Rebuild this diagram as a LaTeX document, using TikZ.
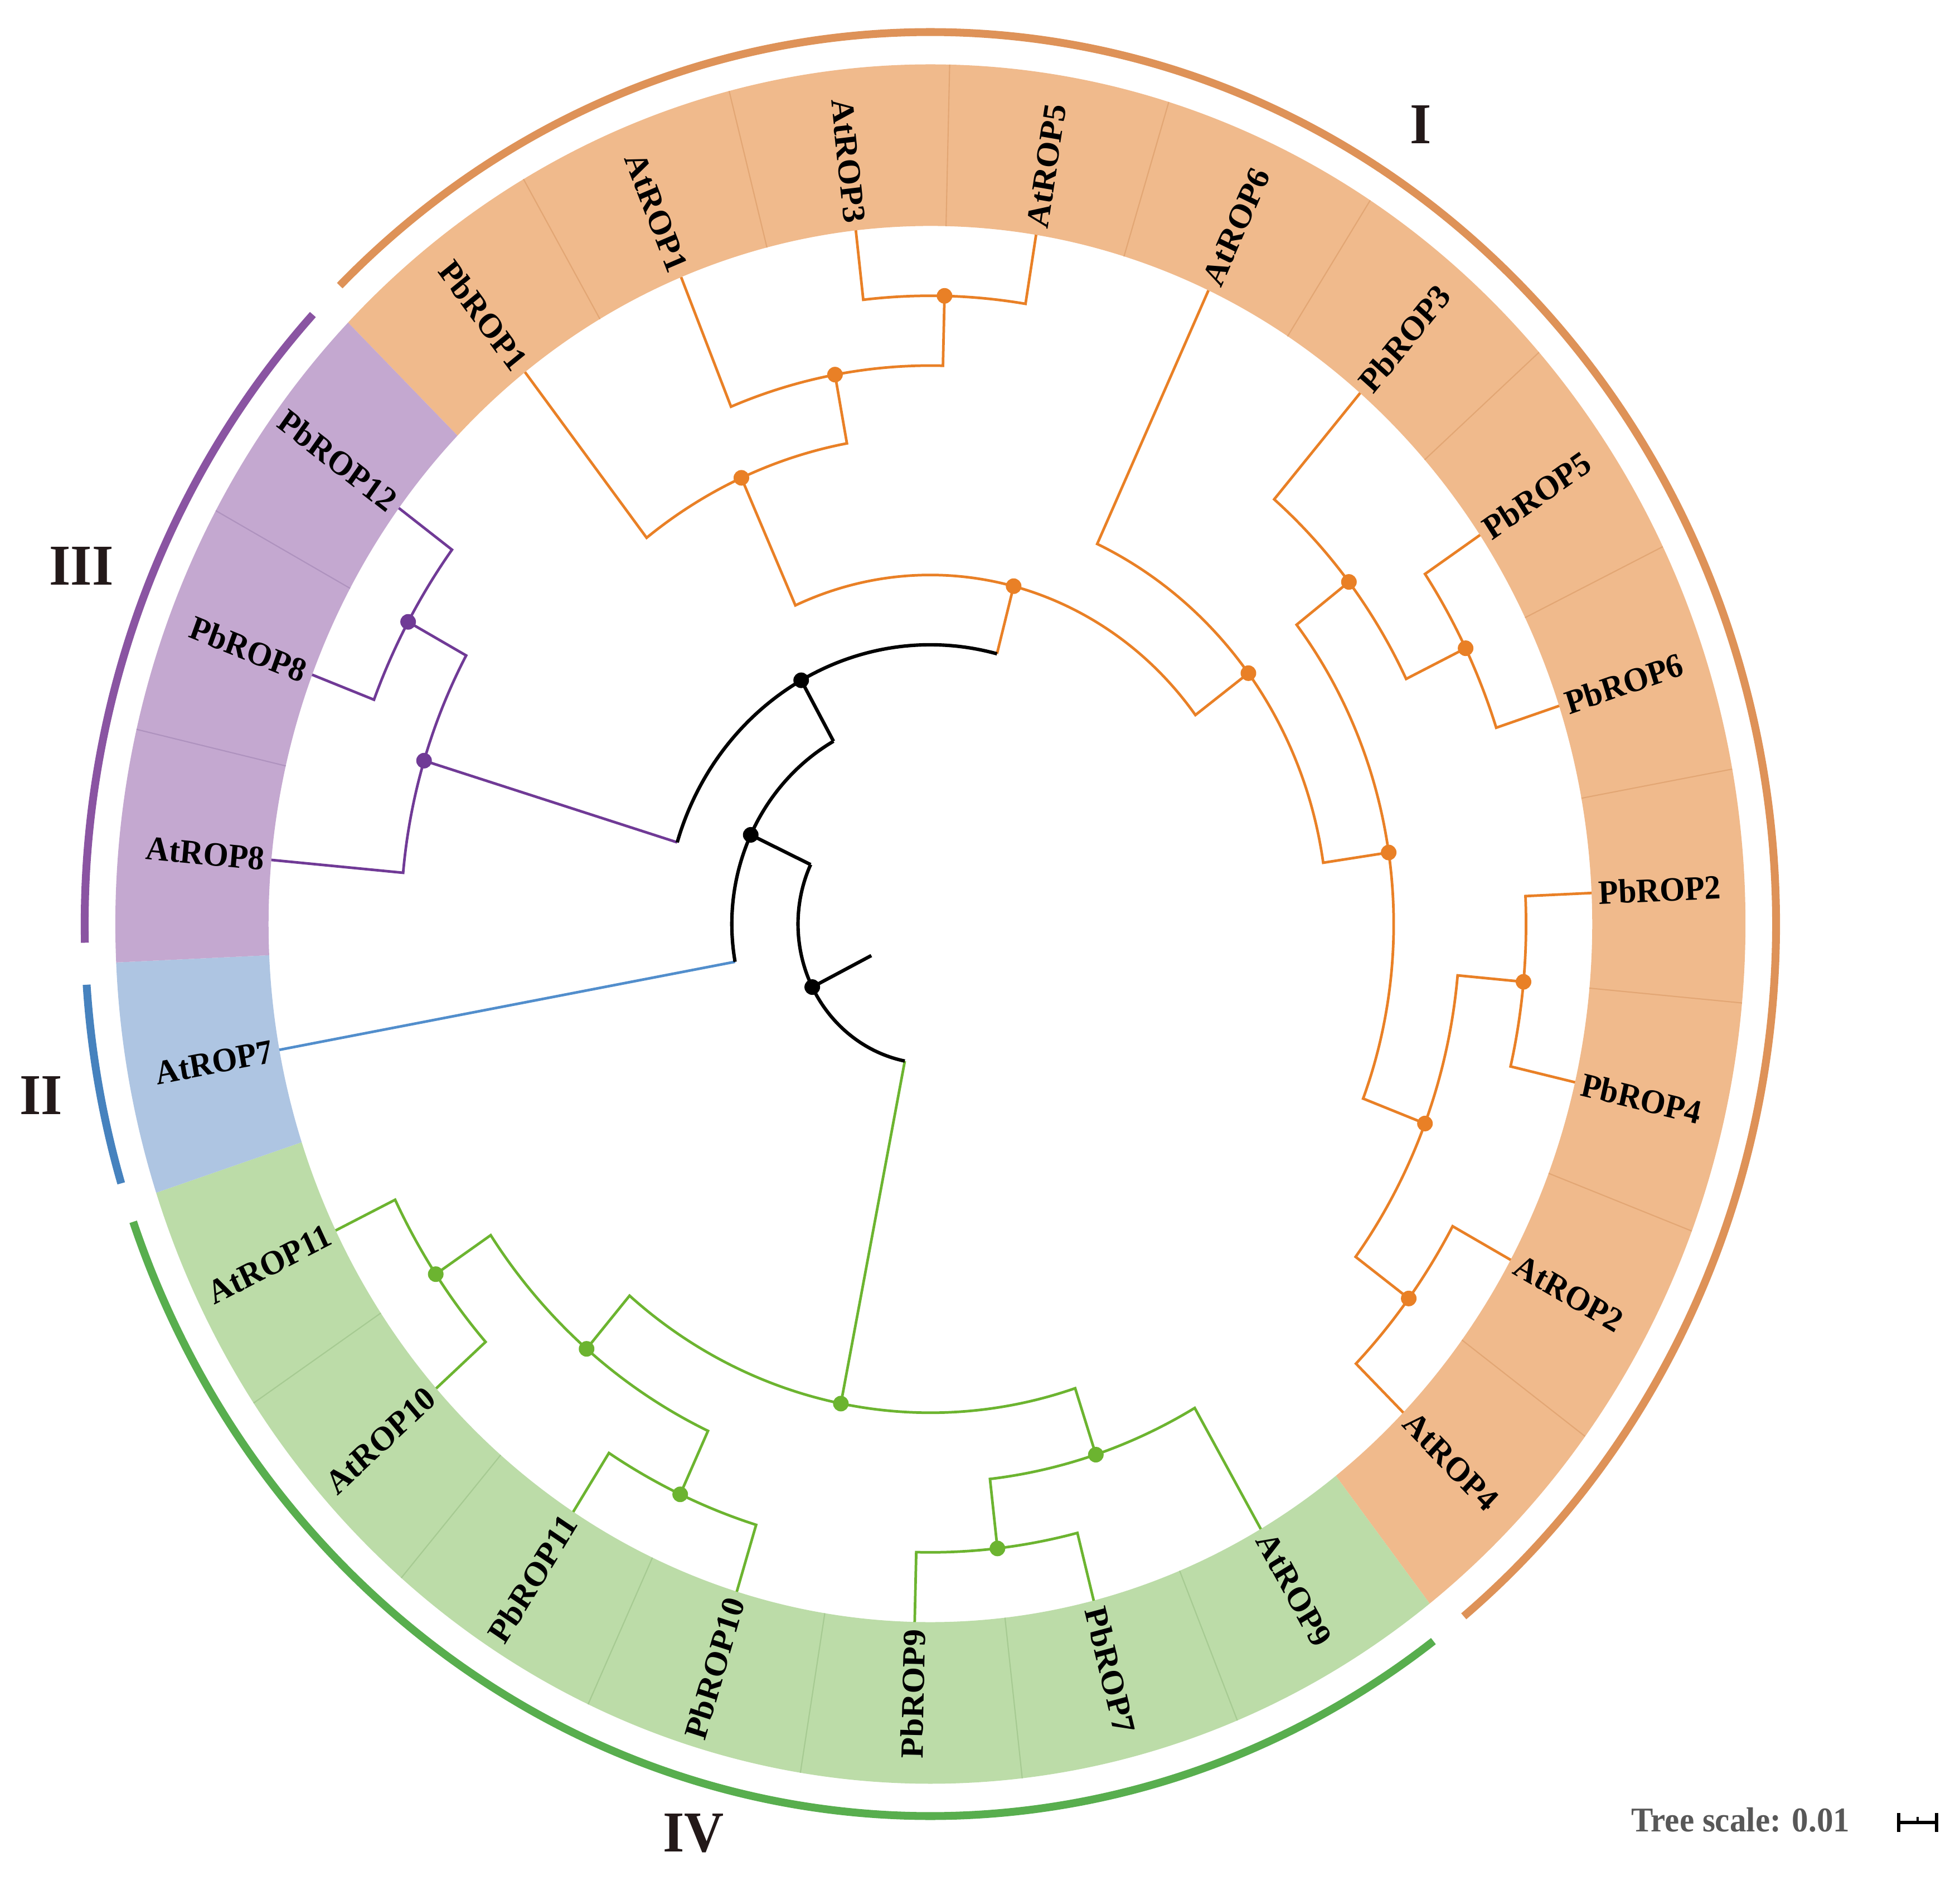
\documentclass[tikz,border=0pt]{standalone}
\usepackage{fontspec}
\setmainfont{Liberation Serif}
\definecolor{orFill}{RGB}{240,186,140}
\definecolor{orSep}{RGB}{226,166,116}
\definecolor{orLine}{RGB}{233,128,38}
\definecolor{orArc}{RGB}{222,146,88}
\definecolor{puFill}{RGB}{196,168,208}
\definecolor{puSep}{RGB}{174,146,190}
\definecolor{puLine}{RGB}{112,58,150}
\definecolor{puArc}{RGB}{138,84,162}
\definecolor{blFill}{RGB}{174,197,226}
\definecolor{blLine}{RGB}{82,142,204}
\definecolor{blArc}{RGB}{70,130,190}
\definecolor{grFill}{RGB}{188,220,168}
\definecolor{grSep}{RGB}{166,202,146}
\definecolor{grLine}{RGB}{108,180,48}
\definecolor{grArc}{RGB}{88,174,78}
\definecolor{romanc}{RGB}{35,25,25}
\definecolor{scalec}{RGB}{88,88,88}
\tikzset{
  br/.style={line width=1.35pt, line join=miter},
  blackbr/.style={line width=1.75pt, black, line join=miter},
  nodedot/.style={circle, fill=#1, inner sep=0pt, minimum size=0.28cm},
  leaftext/.style={font=\bfseries\fontsize{16.5}{18}\selectfont, inner sep=0pt, text=black, transform shape},
  roman/.style={font=\bfseries\fontsize{28}{30}\selectfont, text=romanc, inner sep=0pt},
  scaletext/.style={font=\bfseries\fontsize{16.8}{19}\selectfont, text=scalec, inner sep=0pt},
  cladearc/.style={line width=4pt, line cap=butt}
}
% branch: colour/style, parent radius, child1, angle1, child2, angle2
\newcommand\branch[6]{\draw[#1] (#3) -- (#4:#2) arc[start angle=#4, end angle=#6, radius=#2] -- (#5);}
\newcommand\leaflabel[2]{%
  \pgfmathsetmacro\lcos{cos(#2)}%
  \ifdim\lcos pt<0pt
    \pgfmathsetmacro\lrot{#2+180}%
    \node[leaftext, anchor=east, rotate=\lrot] (l#1) at (#2:1200) {#1};
  \else
    \node[leaftext, anchor=west, rotate=#2] (l#1) at (#2:1200) {#1};
  \fi}
\newcommand\tallbox[1]{\scalebox{1}[1.055]{#1}}
\begin{document}
\begin{tikzpicture}
\useasboundingbox (-16.69,-17.17) rectangle (18.47,16.58);
\begin{scope}[x=0.01cm, y=0.01cm, yscale=1.055]
% ---------- coloured band ----------
\fill[orFill] (135.6:1188) arc[start angle=135.6, end angle=-52.224, radius=1188]
  -- (-52.224:1463) arc[start angle=-52.224, end angle=135.6, radius=1463] -- cycle;
\fill[grFill] (-52.224:1188) arc[start angle=-52.224, end angle=-161.788, radius=1188]
  -- (-161.788:1463) arc[start angle=-161.788, end angle=-52.224, radius=1463] -- cycle;
\fill[blFill] (-161.788:1188) arc[start angle=-161.788, end angle=-177.44, radius=1188]
  -- (-177.44:1463) arc[start angle=-177.44, end angle=-161.788, radius=1463] -- cycle;
\fill[puFill] (-177.44:1188) arc[start angle=-177.44, end angle=-224.4, radius=1188]
  -- (-224.4:1463) arc[start angle=-224.4, end angle=-177.44, radius=1463] -- cycle;
\foreach \j in {1,...,11}
  \draw[orSep, line width=0.6pt] ({135.6-15.652*\j}:1188) -- ({135.6-15.652*\j}:1463);
\foreach \j in {13,...,18}
  \draw[grSep, line width=0.6pt] ({135.6-15.652*\j}:1188) -- ({135.6-15.652*\j}:1463);
\foreach \j in {21,22}
  \draw[puSep, line width=0.6pt] ({135.6-15.652*\j}:1188) -- ({135.6-15.652*\j}:1463);
% ---------- clade arcs ----------
\draw[cladearc, orArc] (134.3:1518) arc[start angle=134.3, end angle=-50.9, radius=1518];
\draw[cladearc, puArc] (136.9:1518) arc[start angle=136.9, end angle=181.2, radius=1518];
\draw[cladearc, blArc] (183.9:1518) arc[start angle=183.9, end angle=196.9, radius=1518];
\draw[cladearc, grArc] (199.5:1518) arc[start angle=199.5, end angle=306.5, radius=1518];
% ---------- leaf tips ----------
\foreach \n/\a in {PbROP1/127.77, AtROP1/112.12, AtROP3/96.47, AtROP5/80.81, AtROP6/65.16,
  PbROP3/49.51, PbROP5/33.86, PbROP6/18.21, PbROP2/2.55, PbROP4/-13.10, AtROP2/-28.75,
  AtROP4/-44.40, AtROP9/-60.05, PbROP7/-75.71, PbROP9/-91.36, PbROP10/-107.01,
  PbROP11/-122.66, AtROP10/-138.31, AtROP11/-153.97, AtROP7/190.38, AtROP8/174.73,
  PbROP8/159.08, PbROP12/143.43}
  \coordinate (\n) at (\a:1188);
% ---------- internal nodes ----------
\coordinate (n35)  at (88.64:1069.2);
\coordinate (n135) at (100.38:950.4);
\coordinate (nP1)  at (114.075:831.6);
\coordinate (p56)  at (26.035:1069.2);
\coordinate (p356) at (37.77:950.4);
\coordinate (p24)  at (-5.275:1069.2);
\coordinate (a24)  at (-36.575:1069.2);
\coordinate (d10)  at (-20.925:950.4);
\coordinate (d8)   at (8.42:831.6);
\coordinate (nB)   at (36.79:712.8);
\coordinate (nA)   at (75.43:594);
\coordinate (pu9)  at (151.255:1069.2);
\coordinate (pu8)  at (162.99:950.4);
\coordinate (g6)   at (-83.535:1069.2);
\coordinate (g5)   at (-71.79:950.4);
\coordinate (g3)   at (-146.14:1069.2);
\coordinate (g4)   at (-114.835:1069.2);
\coordinate (g2)   at (-130.49:950.4);
\coordinate (g1)   at (-101.14:831.6);
\coordinate (P)    at (119.21:475.2);
\coordinate (Q)    at (154.795:356.4);
\coordinate (R)    at (206.83:237.6);
\coordinate (root) at (206.83:118.8);
% ---------- branches: clade I ----------
\branch{br, orLine}{1069.2}{AtROP3}{96.47}{AtROP5}{80.81}
\branch{br, orLine}{950.4}{AtROP1}{112.12}{n35}{88.64}
\branch{br, orLine}{831.6}{PbROP1}{127.77}{n135}{100.38}
\branch{br, orLine}{1069.2}{PbROP5}{33.86}{PbROP6}{18.21}
\branch{br, orLine}{950.4}{PbROP3}{49.51}{p56}{26.035}
\branch{br, orLine}{1069.2}{PbROP2}{2.55}{PbROP4}{-13.10}
\branch{br, orLine}{1069.2}{AtROP2}{-28.75}{AtROP4}{-44.40}
\branch{br, orLine}{950.4}{p24}{-5.275}{a24}{-36.575}
\branch{br, orLine}{831.6}{p356}{37.77}{d10}{-20.925}
\branch{br, orLine}{712.8}{AtROP6}{65.16}{d8}{8.42}
\branch{br, orLine}{594}{nP1}{114.075}{nB}{36.79}
% clade III
\branch{br, puLine}{1069.2}{PbROP12}{143.43}{PbROP8}{159.08}
\branch{br, puLine}{950.4}{pu9}{151.255}{AtROP8}{174.73}
% clade IV
\branch{br, grLine}{1069.2}{PbROP9}{-91.36}{PbROP7}{-75.71}
\branch{br, grLine}{950.4}{g6}{-83.535}{AtROP9}{-60.05}
\branch{br, grLine}{1069.2}{AtROP11}{-153.97}{AtROP10}{-138.31}
\branch{br, grLine}{1069.2}{PbROP11}{-122.66}{PbROP10}{-107.01}
\branch{br, grLine}{950.4}{g3}{-146.14}{g4}{-114.835}
\branch{br, grLine}{831.6}{g2}{-130.49}{g5}{-71.79}
% backbone
\draw[br, orLine] (75.43:475.2) -- (nA);
\draw[br, puLine] (162.99:475.2) -- (pu8);
\draw[blackbr] (75.43:475.2) arc[start angle=75.43, end angle=162.99, radius=475.2];
\draw[br, blLine] (190.38:356.4) -- (AtROP7);
\draw[blackbr] (119.21:356.4) -- (P);
\draw[blackbr] (119.21:356.4) arc[start angle=119.21, end angle=190.38, radius=356.4];
\draw[br, grLine] (258.86:237.6) -- (g1);
\draw[blackbr] (154.795:237.6) -- (Q);
\draw[blackbr] (154.795:237.6) arc[start angle=154.795, end angle=258.86, radius=237.6];
\draw[blackbr] (root) -- (R);
% ---------- dots ----------
\foreach \n in {n35,n135,nP1,p56,p356,p24,a24,d10,d8,nB,nA}
  \node[nodedot=orLine] (\n dot) at (\n) {};
\foreach \n in {pu9,pu8}
  \node[nodedot=puLine] (\n dot) at (\n) {};
\foreach \n in {g1,g2,g3,g4,g5,g6}
  \node[nodedot=grLine] (\n dot) at (\n) {};
\foreach \n in {P,Q,R}
  \node[nodedot=black] (\n dot) at (\n) {};
% ---------- leaf labels ----------
\foreach \n/\a in {PbROP1/127.77, AtROP1/112.12, AtROP3/96.47, AtROP5/80.81, AtROP6/65.16,
  PbROP3/49.51, PbROP5/33.86, PbROP6/18.21, PbROP2/2.55, PbROP4/-13.10, AtROP2/-28.75,
  AtROP4/-44.40, AtROP9/-60.05, PbROP7/-75.71, PbROP9/-91.36, PbROP10/-107.01,
  PbROP11/-122.66, AtROP10/-138.31, AtROP11/-153.97, AtROP7/190.38, AtROP8/174.73,
  PbROP8/159.08, PbROP12/143.43}
  {\leaflabel{\n}{\a}}
\end{scope}
% ---------- clade names ----------
\node[roman] (cI)   at (8.80,14.34) {\tallbox{I}};
\node[roman] (cII)  at (-15.95,-3.08) {\tallbox{II}};
\node[roman] (cIII) at (-15.23,6.42) {\tallbox{III}};
\node[roman] (cIV)  at (-4.25,-16.31) {\tallbox{IV}};
% ---------- tree scale ----------
\node[scaletext, anchor=west] (ts) at (12.57,-16.07) {\tallbox{Tree scale: 0.01}};
\coordinate (sbL) at (17.37,-16.12);
\coordinate (sbR) at (18.05,-16.12);
\coordinate (sbM) at (17.71,-16.12);
\draw[line width=1.6pt] (sbL) -- (sbR);
\draw[line width=1.6pt] ([yshift=-0.17cm]sbL) -- ([yshift=0.17cm]sbL);
\draw[line width=1.6pt] ([yshift=-0.17cm]sbR) -- ([yshift=0.17cm]sbR);
\draw[line width=1.2pt] (sbM) -- ([yshift=0.1cm]sbM);
\end{tikzpicture}
\end{document}
